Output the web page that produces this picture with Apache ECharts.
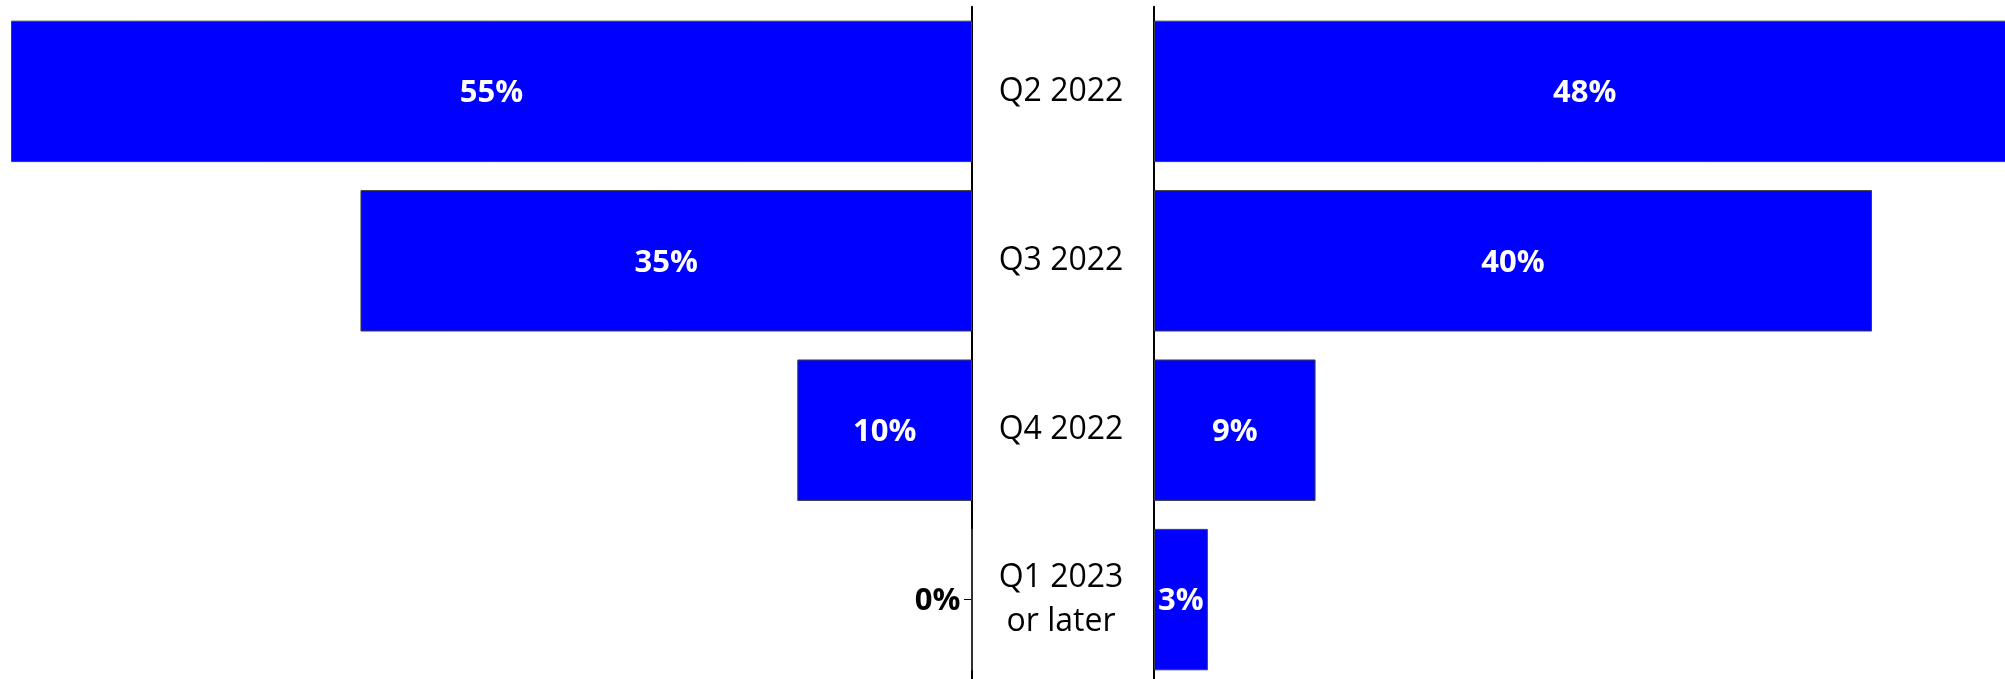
<!DOCTYPE html>
<html>
<head>
<meta charset="utf-8">
<script src="https://cdn.jsdelivr.net/npm/echarts@6/dist/echarts.min.js"></script>
<style>
  html, body { margin: 0; padding: 0; background: #fff; }
  #chart { width: 2005px; height: 679px; }
</style>
</head>
<body>
<div id="chart"></div>
<script>
// Quarter categories, top to bottom
const categories = ['Q2 2022', 'Q3 2022', 'Q4 2022', 'Q1 2023\nor later'];
// Shares (%) for the left-hand and right-hand bars
const leftValues = [55, 35, 10, 0];
const rightValues = [48, 40, 9, 3];

const FONT = 'Open Sans';
const BLUE = '#0000FF';

const barLabel = {
  show: true,
  position: 'inside',
  offset: [0, 2],
  color: '#fff',
  fontFamily: FONT,
  fontWeight: 'bold',
  fontSize: 31,
  formatter: p => p.value + '%'
};

// A zero-length bar puts its label outside, to the left, in black
const leftData = leftValues.map(v => v === 0
  ? { value: v, label: { position: 'left', color: '#000', distance: 11 } }
  : v);

const chart = echarts.init(document.getElementById('chart'), null, { renderer: 'canvas' });

// Both panels run slightly past the page bottom; the right panel runs past the right edge
chart.setOption({
  animation: false,
  backgroundColor: '#fff',
  grid: [
    { left: 11, width: 961, top: 6.7, height: 677.6, outerBoundsMode: 'none', containLabel: false },
    { left: 1154, width: 897.5, top: 6.7, height: 677.6, outerBoundsMode: 'none', containLabel: false }
  ],
  xAxis: [
    { gridIndex: 0, type: 'value', inverse: true, min: 0, max: 55, show: false },
    { gridIndex: 1, type: 'value', min: 0, max: 50, show: false }
  ],
  yAxis: [
    {
      gridIndex: 0,
      type: 'category',
      data: categories,
      inverse: true,
      position: 'right',
      axisLine: { show: true, lineStyle: { color: '#000', width: 2 } },
      axisTick: { show: true, inside: true, alignWithLabel: true, length: 8, lineStyle: { color: '#000', width: 1 } },
      axisLabel: {
        show: true,
        margin: 89,
        align: 'center',
        padding: [5, 0, 0, 0],
        color: '#000',
        fontFamily: FONT,
        fontSize: 32,
        lineHeight: 44
      },
      splitLine: { show: false }
    },
    {
      gridIndex: 1,
      type: 'category',
      data: categories,
      inverse: true,
      position: 'left',
      axisLine: { show: true, lineStyle: { color: '#000', width: 2 } },
      axisTick: { show: false },
      axisLabel: { show: false },
      splitLine: { show: false }
    }
  ],
  series: [
    {
      type: 'bar',
      xAxisIndex: 0,
      yAxisIndex: 0,
      data: leftData,
      barCategoryGap: '16.5%',
      itemStyle: { color: BLUE, borderColor: '#404040', borderWidth: 1 },
      label: barLabel
    },
    {
      type: 'bar',
      xAxisIndex: 1,
      yAxisIndex: 1,
      data: rightValues,
      barCategoryGap: '16.5%',
      itemStyle: { color: BLUE, borderColor: '#404040', borderWidth: 1 },
      label: barLabel
    }
  ]
});
</script>
</body>
</html>
